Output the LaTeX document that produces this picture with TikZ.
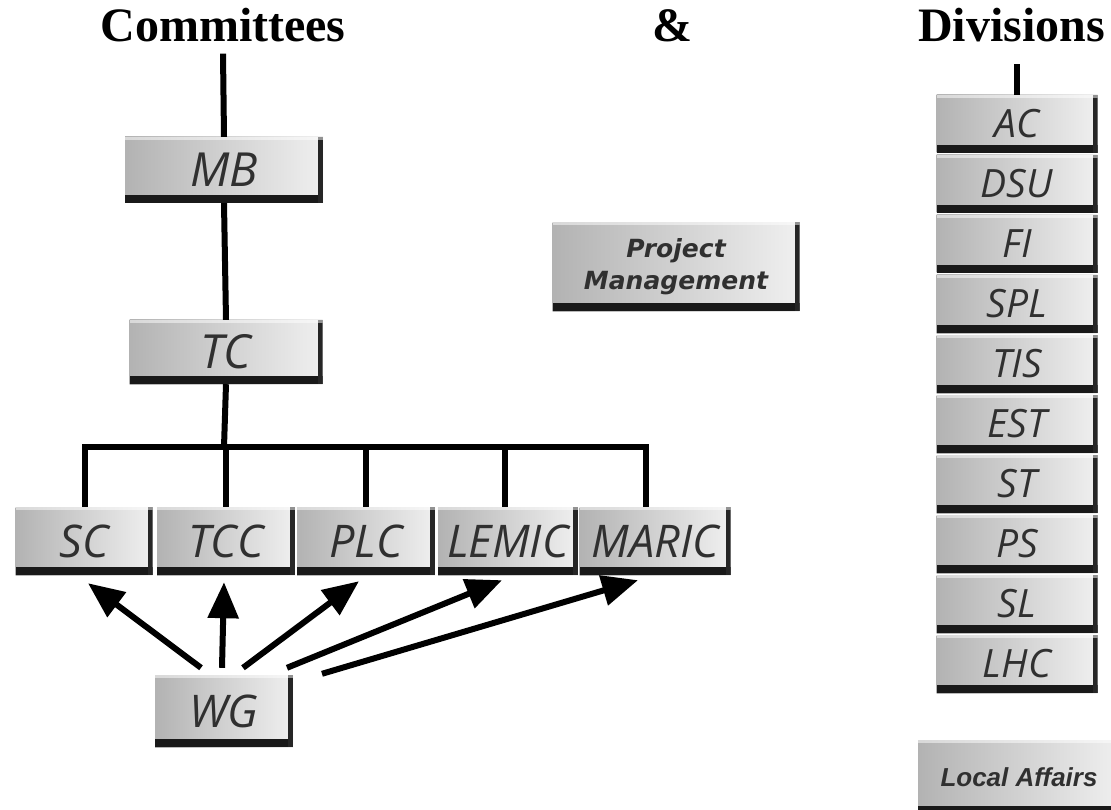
\documentclass[tikz,border=0pt]{standalone}
\usepackage{fontspec}
\usepackage{tikz}
\usepackage{xcolor}
\usetikzlibrary{positioning, arrows.meta}

\newfontfamily\titlefont{Liberation Serif}
\newfontfamily\lblfont{Open Sans}
\newfontfamily\pmfont{DejaVu Sans}
\newfontfamily\lafont{Liberation Sans}
\definecolor{lbltext}{HTML}{303030}

\newcommand{\ttlsize}{\titlefont\bfseries\fontsize{48}{52}\selectfont}
\newcommand{\lblbig}{\lblfont\itshape\fontsize{47}{50}\selectfont}
\newcommand{\lblmid}{\lblfont\itshape\fontsize{45}{48}\selectfont}
\newcommand{\lbldiv}{\lblfont\itshape\fontsize{39}{42}\selectfont}

\begin{document}
\begin{tikzpicture}[x=1pt, y=-1pt,
    btn/.style={rectangle, inner sep=0pt, left color=black!30, right color=black!6, text=lbltext,
        path picture={
            \fill[black!90] ([yshift=8pt]path picture bounding box.south west) rectangle (path picture bounding box.south east);
            \fill[black!85] ([xshift=-5pt]path picture bounding box.south east) rectangle (path picture bounding box.north east);
            \fill[white, opacity=0.5] (path picture bounding box.north west) rectangle ([yshift=-3pt]path picture bounding box.north east);
        }},
    conn/.style={line width=6pt},
    warrow/.style={line width=6pt, -{Triangle[length=36pt, width=30pt]}}]
    \useasboundingbox (0, 0) rectangle (1111, 810);
    \clip (0, 0) rectangle (1111, 810);

    % titles
    \node[anchor=base, inner sep=0pt, font=\ttlsize] (cmt) at (223, 42) {Committees};
    \node[anchor=base, inner sep=0pt, font=\ttlsize] (amp) at (672, 42) {\&};
    \node[anchor=base west, inner sep=0pt, font=\ttlsize] (dvs) at (918, 42) {Divisions};

    % committees
    \node[btn, font=\lblbig, minimum width=198, minimum height=66] (mb) at (224, 170) {MB};
    \node[btn, font=\lblbig, minimum width=193, minimum height=64] (tc) at (226, 352) {TC};
    \node[btn, font=\lblmid, minimum width=137, minimum height=68] (sc) at (84, 541) {SC};
    \node[btn, font=\lblmid, minimum width=138, minimum height=68] (tcc) at (226, 541) {TCC};
    \node[btn, font=\lblmid, minimum width=138, minimum height=68] (plc) at (366, 541) {PLC};
    \node[btn, font=\lblmid, minimum width=140, minimum height=68] (lemic) at (508, 541) {LEMIC};
    \node[btn, font=\lblmid, minimum width=151, minimum height=68] (maric) at (655, 541) {MARIC};
    \node[btn, font=\lblmid, minimum width=138, minimum height=72] (wg) at (224, 711) {WG};
    \node[btn, font=\pmfont\bfseries\itshape\fontsize{25}{32}\selectfont, align=center, minimum width=247, minimum height=89] (pm) at (676, 267) {Project\\Management};

    % divisions
    \node[btn, font=\lbldiv, minimum width=161, minimum height=58] (ac) at (1017, 124) {AC};
    \node[btn, font=\lbldiv, minimum width=161, minimum height=58] (dsu) at (1017, 184) {DSU};
    \node[btn, font=\lbldiv, minimum width=161, minimum height=58] (fi) at (1017, 244) {FI};
    \node[btn, font=\lbldiv, minimum width=161, minimum height=58] (spl) at (1017, 304) {SPL};
    \node[btn, font=\lbldiv, minimum width=161, minimum height=58] (tis) at (1017, 364) {TIS};
    \node[btn, font=\lbldiv, minimum width=161, minimum height=58] (est) at (1017, 424) {EST};
    \node[btn, font=\lbldiv, minimum width=161, minimum height=58] (st) at (1017, 484) {ST};
    \node[btn, font=\lbldiv, minimum width=161, minimum height=58] (ps) at (1017, 544) {PS};
    \node[btn, font=\lbldiv, minimum width=161, minimum height=58] (sl) at (1017, 604) {SL};
    \node[btn, font=\lbldiv, minimum width=161, minimum height=58] (lhc) at (1017, 664) {LHC};
    \node[btn, font=\lafont\bfseries\itshape\fontsize{26}{30}\selectfont, minimum width=202, minimum height=74] (la) at (1019, 777) {Local Affairs};

    % tree lines
    \coordinate (bus) at (224, 447);
    \coordinate (dvstop) at ([yshift=-21pt]dvs.south);
    \draw[conn] ([yshift=-11pt]cmt.south) -- (mb.north);
    \draw[conn] (mb.south) -- (tc.north);
    \draw[conn] (tc.south) -- (bus);
    \draw[conn] ([xshift=1pt]sc.north) |- (bus) -| ([xshift=-9pt]maric.north);
    \draw[conn] (tcc.north) -- (tcc.north |- bus);
    \draw[conn] (plc.north) -- (plc.north |- bus);
    \draw[conn] ([xshift=-3pt]lemic.north) -- ([xshift=-3pt]lemic.north |- bus);
    \draw[conn] (ac.north) -- (ac.north |- dvstop);

    % working groups
    \draw[warrow] ([xshift=-23pt, yshift=7pt]wg.north) -- ([xshift=4pt, yshift=-8pt]sc.south);
    \draw[warrow] ([xshift=-2pt, yshift=7pt]wg.north) -- ([xshift=-2pt, yshift=-7pt]tcc.south);
    \draw[warrow] ([xshift=19pt, yshift=7pt]wg.north) -- ([xshift=-7pt, yshift=-6pt]plc.south);
    \draw[warrow] ([xshift=63pt, yshift=7pt]wg.north) -- ([xshift=-6pt, yshift=-5pt]lemic.south);
    \draw[warrow] ([xshift=98pt, yshift=1pt]wg.north) -- ([xshift=-17pt, yshift=-5pt]maric.south);
\end{tikzpicture}
\end{document}
